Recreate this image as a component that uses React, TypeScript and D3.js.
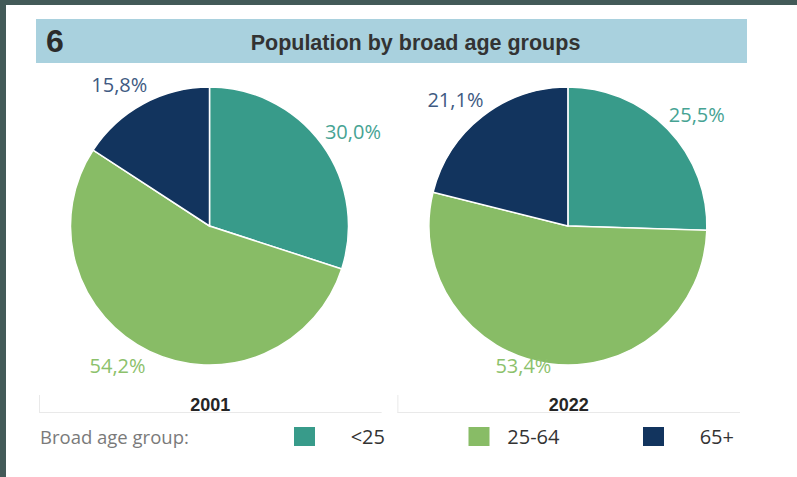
import React, { useEffect } from "react";
import * as d3 from "d3";

const years = ["2001", "2022"];
const groups = ["<25", "25-64", "65+"];
const share2001 = [30.0, 54.2, 15.8];
const share2022 = [25.5, 53.4, 21.1];
const sliceColors = ["#389b8a", "#88bc66", "#12345e"];
const labelColors = ["#46a393", "#8cc16b", "#3e5a82"];
const titleNumber = "6";
const titleText = "Population by broad age groups";
const legendTitle = "Broad age group:";

const W = 797;
const H = 477;

const fmt = (v: number) => v.toFixed(1).replace(".", ",") + "%";

export default function App() {
  useEffect(() => {
    document.body.style.margin = "0";
    document.body.style.overflow = "hidden";
  }, []);

  const series = [share2001, share2022];
  const xBand = d3.scaleBand<string>().domain(years).range([39, 740]).paddingInner(0.044);
  const cy = 226;
  const r = 139;
  const pie = d3.pie<number>().sort(null).value((d) => d).startAngle(0).endAngle(Math.PI * 2);
  const arc = d3.arc<d3.PieArcDatum<number>>().innerRadius(0).outerRadius(r);
  const legendX = d3.scaleLinear().domain([0, 1]).range([294, 468.5]);
  const labelR = 160;
  const yMax = 366;
  const shift = 14;

  const sans = "'Segoe UI', 'Open Sans', sans-serif";
  const arial = "Arial, 'Liberation Sans', sans-serif";

  return (
    <svg width={W} height={H} style={{ display: "block", position: "absolute", left: 0, top: 0 }}>
      <rect x={0} y={0} width={W} height={H} fill="#ffffff" />
      <rect x={0} y={0} width={W} height={5} fill="#435a58" />
      <rect x={0} y={0} width={6} height={H} fill="#435a58" />
      <rect x={36} y={19} width={711} height={44} fill="#a9d1de" />
      <text x={46} y={52} fontFamily={arial} fontWeight="bold" fontSize={32} fill="#2b2b2b">
        {titleNumber}
      </text>
      <text x={415.5} y={49.5} textAnchor="middle" fontFamily={arial} fontWeight="bold" fontSize={21.5} fill="#333333">
        {titleText}
      </text>

      {years.map((yr, yi) => {
        const x0 = xBand(yr)!;
        const bw = xBand.bandwidth();
        const cx = x0 + bw / 2 - 0.8;
        const arcs = pie(series[yi]);
        return (
          <g key={yr}>
            <g transform={`translate(${cx},${cy})`}>
              {arcs.map((a, i) => (
                <path key={i} d={arc(a) || ""} fill={sliceColors[i]} stroke="#ffffff" strokeWidth={1.5} />
              ))}
            </g>
            {arcs.map((a, i) => {
              const mid = (a.startAngle + a.endAngle) / 2;
              const sx = Math.sin(mid);
              const sy = -Math.cos(mid);
              let px = cx + labelR * sx;
              let py = cy + labelR * sy;
              let anchor = "middle";
              if (py > yMax) {
                const t = (yMax - cy) / sy;
                px = cx + t * sx + (sx >= 0 ? -3 : 3);
                py = yMax;
                anchor = sx >= 0 ? "start" : "end";
              } else {
                px += sx >= 0 ? shift : -shift;
              }
              return (
                <text
                  key={"l" + i}
                  x={px}
                  y={py}
                  dy="0.35em"
                  textAnchor={anchor}
                  fontFamily={sans}
                  fontSize={20}
                  fill={labelColors[i]}
                >
                  {fmt(series[yi][i])}
                </text>
              );
            })}
            <line x1={x0} x2={x0 + bw} y1={412.5} y2={412.5} stroke="#e9e9e9" strokeWidth={1} />
            <line x1={x0 + 0.5} x2={x0 + 0.5} y1={395} y2={412.5} stroke="#e9e9e9" strokeWidth={1} />
            <text x={x0 + bw / 2} y={411} textAnchor="middle" fontFamily={arial} fontWeight="bold" fontSize={18} fill="#252525">
              {yr}
            </text>
          </g>
        );
      })}

      <text x={40} y={444} fontFamily={sans} fontSize={18.5} fill="#7a7a7a">
        {legendTitle}
      </text>
      {groups.map((g, i) => {
        const lx = legendX(i);
        return (
          <g key={g}>
            <rect x={lx} y={427} width={21} height={19} fill={sliceColors[i]} />
            <text x={lx + 21 + 70} y={444} textAnchor="end" fontFamily={sans} fontSize={20} fill="#333333">
              {g}
            </text>
          </g>
        );
      })}
    </svg>
  );
}
